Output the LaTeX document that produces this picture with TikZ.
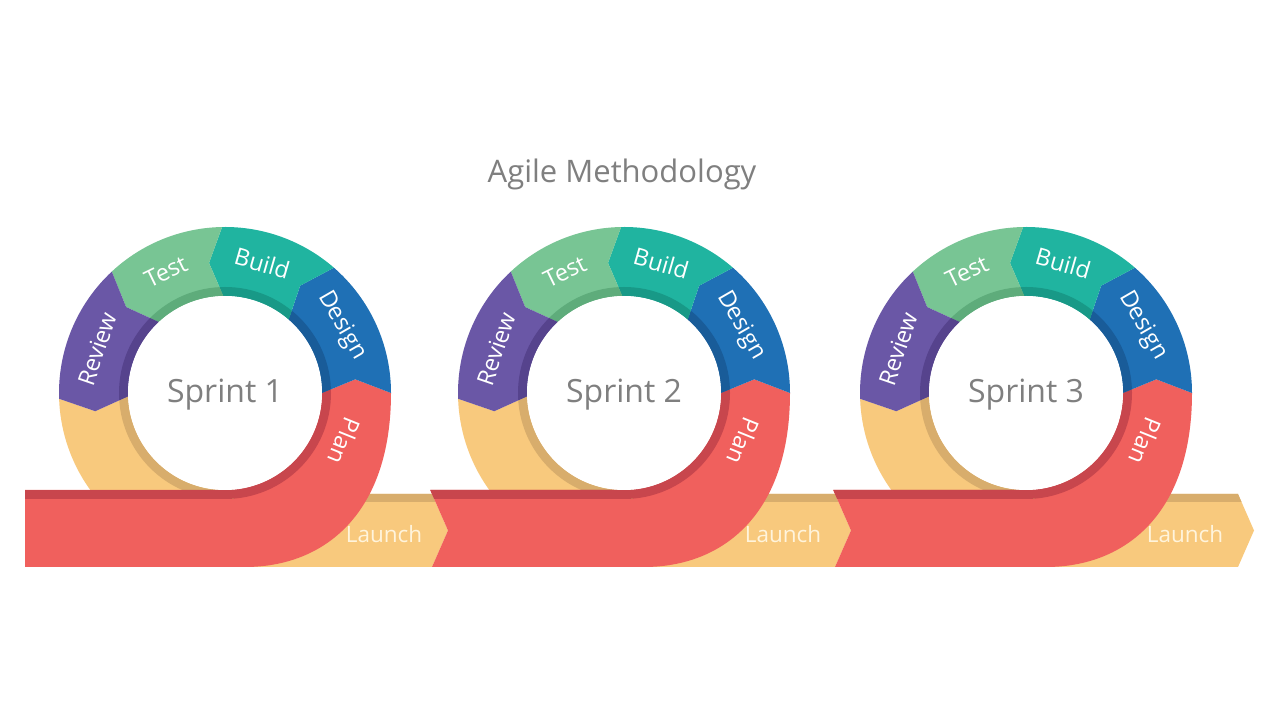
\documentclass[tikz,border=0pt]{standalone}
\usepackage{fontspec}
\setmainfont{Open Sans}
\definecolor{cred}{HTML}{F0605D}
\definecolor{credd}{HTML}{C8464D}
\definecolor{cyel}{HTML}{F8C97D}
\definecolor{cyeld}{HTML}{D8AD6C}
\definecolor{cpur}{HTML}{6A57A6}
\definecolor{cpurd}{HTML}{56438D}
\definecolor{cgrn}{HTML}{78C594}
\definecolor{cgrnd}{HTML}{5EAC7B}
\definecolor{cteal}{HTML}{20B4A0}
\definecolor{cteald}{HTML}{189987}
\definecolor{cblue}{HTML}{1F70B5}
\definecolor{cblued}{HTML}{195C99}
\definecolor{cgray}{HTML}{7F7F7F}
\definecolor{ccream}{HTML}{FFF4DC}
\tikzset{
  segp/.style 2 args={insert path={(#1:166) arc[start angle=#1,end angle=#2,radius=166] -- (#2+6:131) -- (#2:97) arc[start angle=#2,end angle=#1,radius=97] -- (#1+6:131) -- cycle}},
  yringp/.style={insert path={(182:166) arc[start angle=182,end angle=275,radius=166] -- (275:97) arc[start angle=275,end angle=182,radius=97] -- (188:131) -- cycle}},
  redp/.style={insert path={(0:166) -- (6:131) -- (0:97) arc[start angle=0,end angle=-90,radius=97] -- (\Lt,-97) -- (\Lm,-137.5) -- (\Lb,-174) -- (20,-174) .. controls (100,-174) and (166,-120) .. (166,0) -- cycle}},
  seglabel/.style={text=white, font=\fontsize{23.5}{25}\selectfont, inner sep=0pt},
  launchlabel/.style={text=ccream, font=\fontsize{22.5}{24}\selectfont, inner sep=0pt},
  sprintlabel/.style={text=cgray, font=\fontsize{32}{34}\selectfont, inner sep=0pt},
  titlelabel/.style={text=cgray, font=\fontsize{31}{33}\selectfont, inner sep=0pt},
  hub/.style={circle, fill=white, minimum size=194pt, inner sep=0pt}
}
\begin{document}
\begin{tikzpicture}[x=1pt,y=1pt]
\useasboundingbox (0,0) rectangle (1280,720);
\fill[white] (0,0) rectangle (1280,720);
\node[titlelabel, anchor=base] (title) at (622,537) {Agile Methodology};
\foreach \cx/\ltop/\lmid/\lbot/\tx/\n in {225/25/25/25/448/1, 624/430.25/448/432/851/2, 1026/833.25/851/835/1254/3}{
  \begin{scope}[shift={(\cx,327)}]
    \pgfmathsetmacro{\Lt}{\ltop-\cx}
    \pgfmathsetmacro{\Lm}{\lmid-\cx}
    \pgfmathsetmacro{\Lb}{\lbot-\cx}
    \pgfmathsetmacro{\Ls}{\ltop+(\lmid-\ltop)*9/40.5-\cx}
    \pgfmathsetmacro{\T}{\tx-\cx}
    \pgfmathsetmacro{\Tb}{\tx-\cx-16}
    \pgfmathsetmacro{\Ts}{\tx-\cx-16+3.5}
    % launch band
    \fill[cyel] (0,-174) -- (\Tb,-174) -- (\T,-137.5) -- (\Tb,-101) -- (0,-101) -- cycle;
    \fill[cyeld] (0,-101) -- (\Tb,-101) -- (\Ts,-109) -- (0,-109) -- cycle;
    % ring parts
    \fill[cyel, yringp];
    \fill[cred, redp];
    \fill[cblue, segp={0}{49}];
    \fill[cteal, segp={49}{91}];
    \fill[cgrn, segp={91}{133}];
    \fill[cpur, segp={133}{182}];
    % inner shadow strip
    \begin{scope}
      \clip (0,0) circle[radius=106];
      \fill[cyeld, yringp];
      \fill[credd, redp];
      \fill[cblued, segp={0}{49}];
      \fill[cteald, segp={49}{91}];
      \fill[cgrnd, segp={91}{133}];
      \fill[cpurd, segp={133}{182}];
    \end{scope}
    \fill[credd] (\Lt,-97) -- (0,-97) -- (0,-106) -- (\Ls,-106) -- cycle;
    \node[hub] (hub\n) at (0,0) {};
    \node[sprintlabel, anchor=base] (sprint\n) at (0,-10) {Sprint \n};
    \node[seglabel, rotate=-112] (plan\n) at (-22:129) {Plan};
    \node[seglabel, rotate=-60] (design\n) at (30:135) {Design};
    \node[seglabel, rotate=-16] (build\n) at (74:135) {Build};
    \node[seglabel, rotate=26] (test\n) at (116:135) {Test};
    \node[seglabel, rotate=71] (review\n) at (161:135) {Review};
    \node[launchlabel] (launch\n) at (159,-141) {Launch};
  \end{scope}
}
\end{tikzpicture}
\end{document}
